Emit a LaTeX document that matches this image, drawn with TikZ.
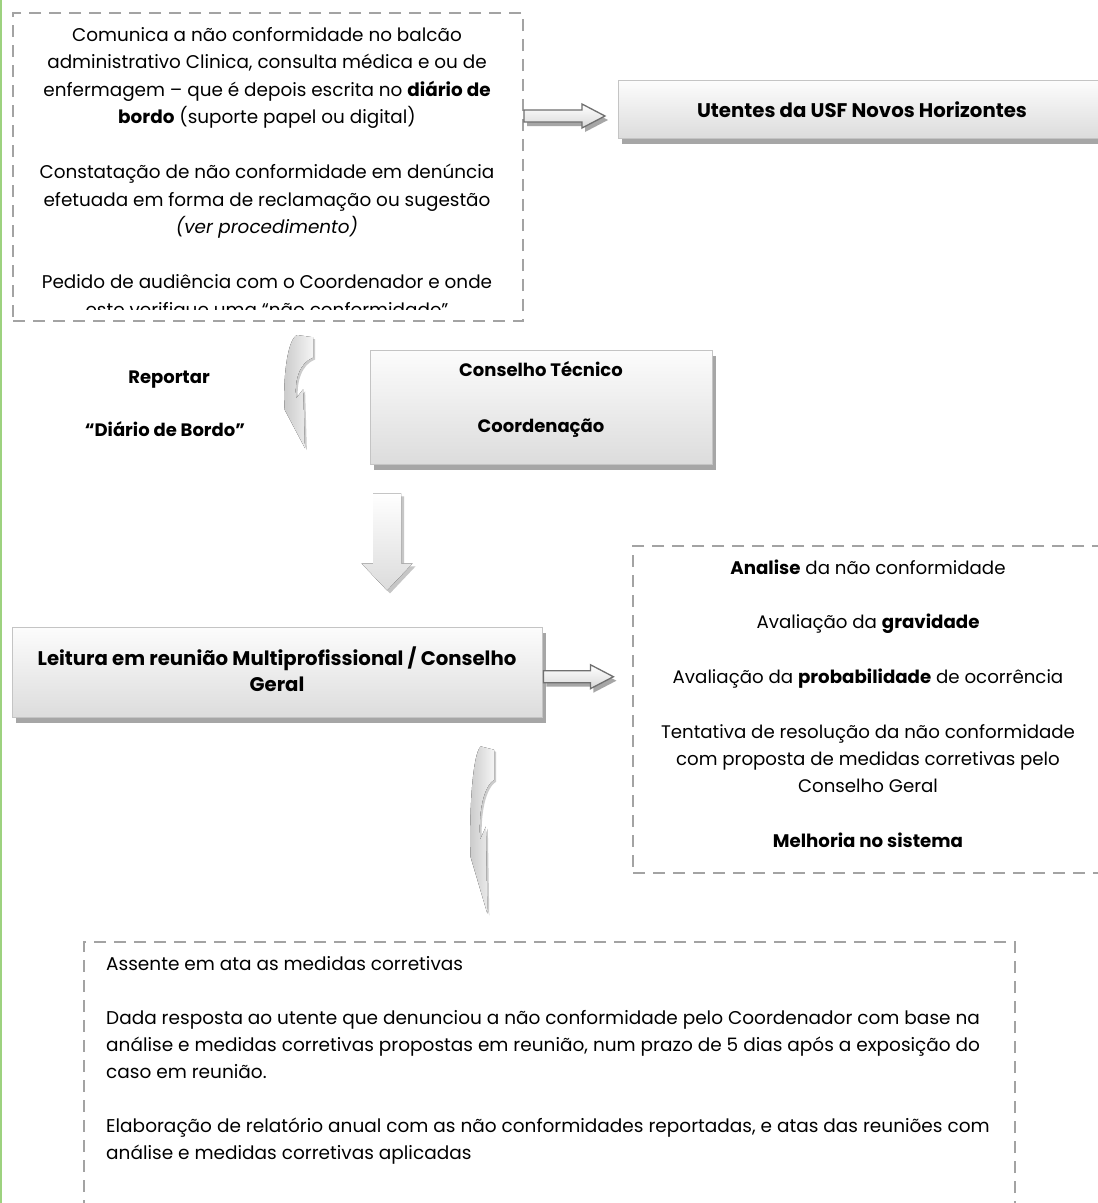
\documentclass[tikz,border=0pt]{standalone}
\usepackage{fontspec}
\setmainfont{Poppins}
\usetikzlibrary{shadows,calc}

\definecolor{dashgray}{HTML}{A3A3A3}
\definecolor{edgegreen}{HTML}{9DD27F}
\definecolor{arrowedge}{HTML}{707070}
\definecolor{shadowgray}{HTML}{A6A6A6}
\definecolor{facetop}{HTML}{FCFCFC}
\definecolor{facebot}{HTML}{DCDCDC}
\definecolor{faceedge}{HTML}{C4C4C4}

\tikzset{
  notebox/.style={rectangle, draw=dashgray, line width=2pt,
    dash pattern=on 12pt off 8pt, inner sep=0pt, anchor=north west},
  titlebox/.style={rectangle, anchor=north west, inner sep=0pt,
    draw=faceedge, line width=1.4pt, top color=facetop, bottom color=facebot,
    drop shadow={shadow xshift=3pt, shadow yshift=-5pt, fill=shadowgray, opacity=1}},
  bodytext/.style={inner sep=0pt, font=\fontsize{18.4}{27.5}\selectfont},
  sidetext/.style={inner sep=0pt, font=\fontsize{18.2}{27.3}\selectfont},
  listtext/.style={inner sep=0pt, font=\fontsize{18.5}{27}\selectfont},
  headtext/.style={inner sep=0pt, font=\fontsize{18}{26}\selectfont\bfseries},
  bighead/.style={inner sep=0pt, font=\fontsize{19.7}{26}\selectfont\bfseries},
  flatbody/.style={insert path={(0,-6) -- ({#1-23},-6) -- ({#1-23},-12) -- (#1,0)
    -- ({#1-23},12) -- ({#1-23},6) -- (0,6) -- cycle}},
  bentbody/.style={insert path={(0.45,0) -- (1,0.02) -- (1,0.2)
    .. controls (0.55,0.24) and (0.34,0.4) .. (0.42,0.56) -- (0.66,0.48)
    -- (0.72,1) -- (0.02,0.66) .. controls (-0.04,0.4) and (0.1,0.04) .. (0.45,0) -- cycle}},
  downbody/.style={insert path={(-14,0) -- (14,0) -- (14,70) -- (25.5,70) -- (0,97)
    -- (-25.5,70) -- (-14,70) -- cycle}},
}

% curved hand-off arrow: anchor coordinate, width, height
\newcommand{\bentarrow}[3]{%
  \begin{scope}[shift={(#1)}]
    \fill[gray!40, shift={(2,2)}, xscale=#2, yscale=#3, bentbody];
    \fill[left color=gray!42, right color=gray!8, xscale=#2, yscale=#3, bentbody];
  \end{scope}}

% straight block arrow pointing right: anchor coordinate, length
\newcommand{\flatarrow}[2]{%
  \begin{scope}[shift={(#1)}]
    \fill[shadowgray, shift={(3,4)}, flatbody=#2];
    \draw[arrowedge, line width=1.3pt, top color=white, bottom color=gray!30, flatbody=#2];
  \end{scope}}

\begin{document}
\begin{tikzpicture}[x=1pt, y=-1pt]
  \useasboundingbox (0,0) rectangle (1098,1203);
  \fill[white] (0,0) rectangle (1098,1203);
  \begin{scope}
    \clip (0,0) rectangle (1098,1203);
    \draw[edgegreen, line width=1.5pt] (0.75,0) -- (0.75,1203);

    % frames
    \node[notebox, minimum width=510pt, minimum height=308pt] (report) at (12,12) {};
    \node[titlebox, minimum width=488pt, minimum height=58pt] (utentes) at (618,80) {};
    \node[titlebox, minimum width=342pt, minimum height=114pt] (conselho) at (370,350) {};
    \node[titlebox, minimum width=530pt, minimum height=90pt] (leitura) at (12,627) {};
    \node[notebox, minimum width=472pt, minimum height=327pt] (analise) at (632,545) {};
    \node[notebox, minimum width=931pt, minimum height=300pt] (registo) at (83,941) {};

    % how a non-conformity is reported
    \begin{scope}
      \clip (12,12) rectangle (522,309);
      \node[bodytext, align=center, anchor=north] (reporttext) at (267,21)
        {\rule{0pt}{20pt}Comunica a não conformidade no balcão\\
         administrativo Clinica, consulta médica e ou de\\
         enfermagem – que é depois escrita no \textbf{diário de}\\
         \textbf{bordo} (suporte papel ou digital)\\[27.5pt]
         Constatação de não conformidade em denúncia\\
         efetuada em forma de reclamação ou sugestão\\
         \textit{(ver procedimento)}\\[27.5pt]
         Pedido de audiência com o Coordenador e onde\\
         este verifique uma “não conformidade”};
    \end{scope}

    \node[bighead, anchor=base] (utenteslabel) at (862,117) {Utentes da USF Novos Horizontes};

    \node[headtext, anchor=base] (reportar) at (169,383) {Reportar};
    \node[headtext, anchor=base] (diario) at (165,436) {“Diário de Bordo”};

    \node[headtext, align=center, anchor=north] (conselholabel) at (541,356)
      {\rule{0pt}{20pt}Conselho Técnico\\[30pt]Coordenação};

    \node[bighead, align=center, anchor=north] (leituralabel) at (277,645)
      {\rule{0pt}{20pt}Leitura em reunião Multiprofissional / Conselho\\Geral};

    \node[sidetext, align=center, anchor=north] (analisetext) at (868,554)
      {\rule{0pt}{20pt}\textbf{Analise} da não conformidade\\[27.3pt]
       Avaliação da \textbf{gravidade}\\[27.3pt]
       Avaliação da \textbf{probabilidade} de ocorrência\\[27.3pt]
       Tentativa de resolução da não conformidade\\
       com proposta de medidas corretivas pelo\\
       Conselho Geral\\[27.3pt]
       \textbf{Melhoria no sistema}};

    \node[listtext, align=left, anchor=north west] (registotext) at (106,950)
      {\rule{0pt}{20pt}Assente em ata as medidas corretivas\\[27pt]
       Dada resposta ao utente que denunciou a não conformidade pelo Coordenador com base na\\
       análise e medidas corretivas propostas em reunião, num prazo de 5 dias após a exposição do\\
       caso em reunião.\\[27pt]
       Elaboração de relatório anual com as não conformidades reportadas, e atas das reuniões com\\
       análise e medidas corretivas aplicadas};

    % arrows between the stages
    \coordinate (a1) at ($(report.north east)+(0,104)$);
    \flatarrow{a1}{81}
    \coordinate (a2) at ($(leitura.east)+(0,4)$);
    \flatarrow{a2}{70}

    \coordinate (a3) at ($(conselho.south west)+(17,28)$);
    \begin{scope}[shift={(a3)}]
      \fill[gray!45, shift={(3,3)}, downbody];
      \fill[top color=white, bottom color=gray!28, downbody];
    \end{scope}

    \coordinate (b1) at ($(report.south west)+(272,13)$);
    \bentarrow{b1}{29}{113}
    \coordinate (b2) at ($(leitura.south west)+(458,28)$);
    \bentarrow{b2}{24}{167}
  \end{scope}
\end{tikzpicture}
\end{document}
